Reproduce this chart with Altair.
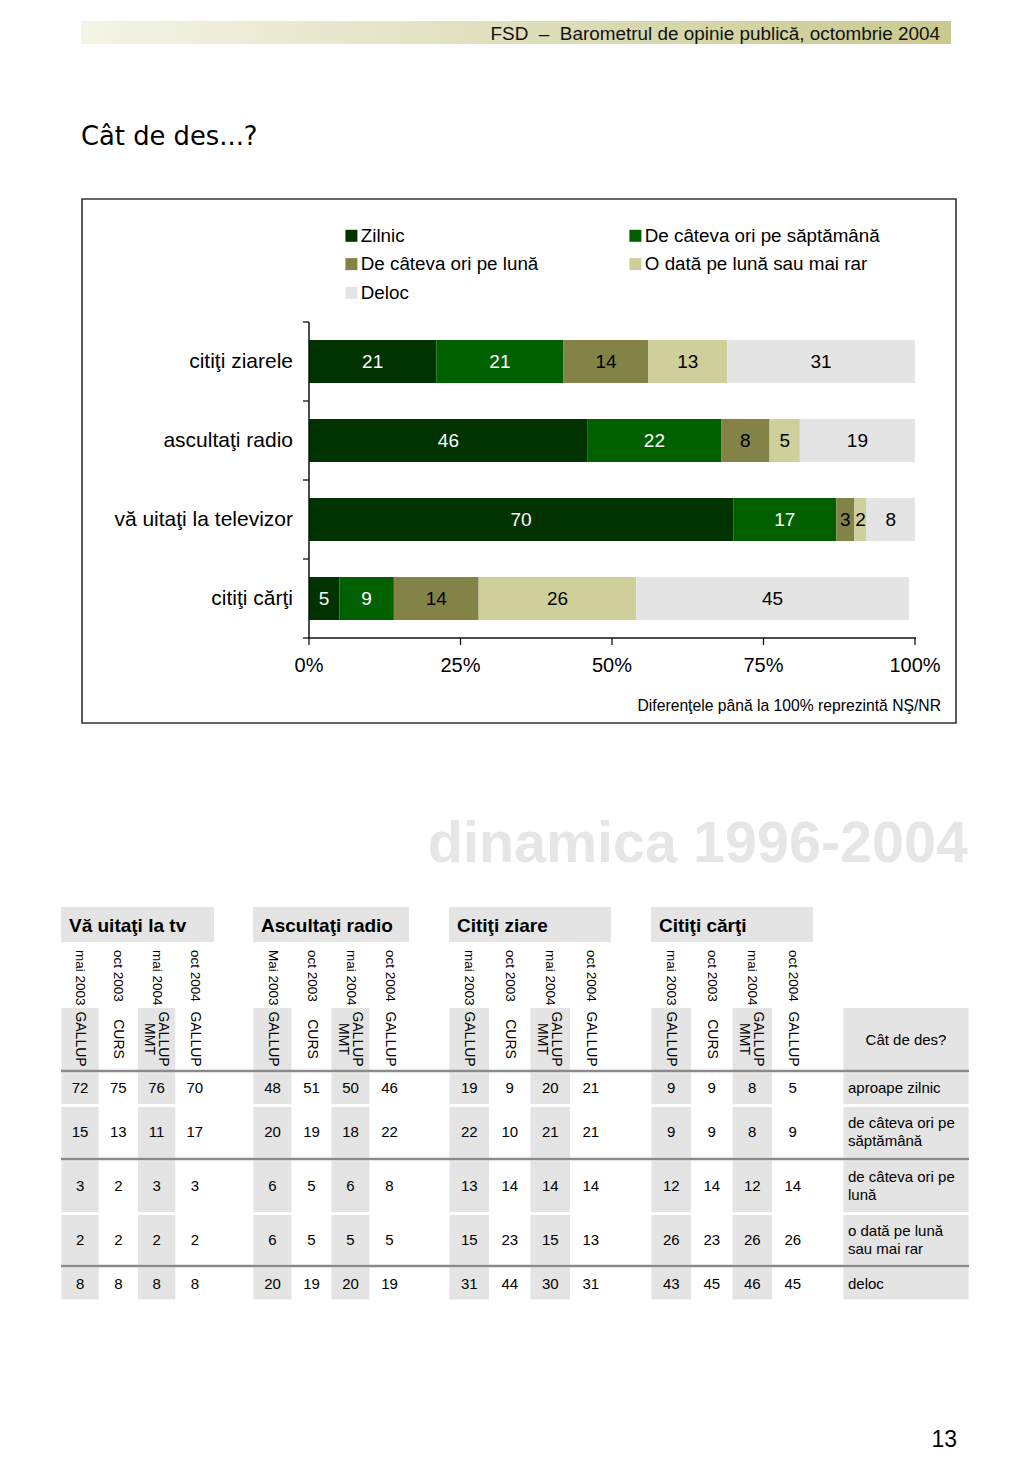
import altair as alt
import pandas as pd


def P(v):
    """page pixel -> chart pixel (page has an 8px margin)"""
    return v - 8


# ---------------- data: stacked bar chart ----------------
items = ["citiţi ziarele", "ascultaţi radio", "vă uitaţi la televizor", "citiţi cărţi"]
cats = ["Zilnic", "De câteva ori pe săptămână", "De câteva ori pe lună",
        "O dată pe lună sau mai rar", "Deloc"]
v_ziare = [21, 21, 14, 13, 31]
v_radio = [46, 22, 8, 5, 19]
v_tv = [70, 17, 3, 2, 8]
v_carti = [5, 9, 14, 26, 45]
x_ticks = [0, 25, 50, 75, 100]
x_tick_labels = ["0%", "25%", "50%", "75%", "100%"]
colors = ["#003300", "#006000", "#838347", "#cfcf9c", "#e4e4e4"]

# ---------------- data: table ----------------
groups = ["Vă uitaţi la tv", "Ascultaţi radio", "Citiţi ziare", "Citiţi cărţi"]
dates = [
    ["mai 2003", "oct 2003", "mai 2004", "oct 2004"],
    ["Mai 2003", "oct 2003", "mai 2004", "oct 2004"],
    ["mai 2003", "oct 2003", "mai 2004", "oct 2004"],
    ["mai 2003", "oct 2003", "mai 2004", "oct 2004"],
]
sources = ["GALLUP", "CURS", "GALLUP\nMMT", "GALLUP"]
row_labels = ["aproape zilnic", "de câteva ori pe\nsăptămână", "de câteva ori pe\nlună",
              "o dată pe lună\nsau mai rar", "deloc"]
tab_tv = [[72, 75, 76, 70], [15, 13, 11, 17], [3, 2, 3, 3], [2, 2, 2, 2], [8, 8, 8, 8]]
tab_radio = [[48, 51, 50, 46], [20, 19, 18, 22], [6, 5, 6, 8], [6, 5, 5, 5], [20, 19, 20, 19]]
tab_ziare = [[19, 9, 20, 21], [22, 10, 21, 21], [13, 14, 14, 14], [15, 23, 15, 13], [31, 44, 30, 31]]
tab_carti = [[9, 9, 8, 5], [9, 9, 8, 9], [12, 14, 12, 14], [26, 23, 26, 26], [43, 45, 46, 45]]
tables = [tab_tv, tab_radio, tab_ziare, tab_carti]

# ---------------- frames ----------------
bar_rows = []
for item, vals in zip(items, [v_ziare, v_radio, v_tv, v_carti]):
    s = 0
    for k, (c, v) in enumerate(zip(cats, vals)):
        bar_rows.append(dict(item=item, cat=c, value=v, start=s, end=s + v,
                             mid=s + v / 2, dark=k < 2))
        s += v
bar_df = pd.DataFrame(bar_rows)
item_df = pd.DataFrame({"item": items})
xt_df = pd.DataFrame({"t": x_ticks, "lab": x_tick_labels})
yb_df = pd.DataFrame({"b": list(range(len(items) + 1))})

# legend is laid out column by column (3 rows x 2 columns)
leg_order = [0, 2, 4, 1, 3]
leg_domain = [cats[i] for i in leg_order]
leg_range = [colors[i] for i in leg_order]

cell_rows, date_rows, src_rows = [], [], []
for g in range(4):
    for j in range(4):
        idx = g * 5 + j
        date_rows.append(dict(cx=idx + 0.5, lab=dates[g][j]))
        src_rows.append(dict(cx=idx + 0.5, lab=sources[j], c0=idx, c1=idx + 1,
                             shaded=j in (0, 2), two="\n" in sources[j]))
        for r in range(5):
            cell_rows.append(dict(c0=idx, c1=idx + 1, cx=idx + 0.5, r0=r, r1=r + 1,
                                  ry=r + 0.5, val=tables[g][r][j], shaded=j in (0, 2)))
for r in range(5):
    cell_rows.append(dict(c0=20, c1=21, cx=20.5, r0=r, r1=r + 1, ry=r + 0.5,
                          val=None, shaded=True))
cell_df = pd.DataFrame(cell_rows)
shade_df = cell_df[cell_df.shaded]
val_df = cell_df[cell_df.val.notna()].copy()
val_df["val"] = val_df["val"].astype(int)
date_df = pd.DataFrame(date_rows)
src_df = pd.DataFrame(src_rows)
src_shade_df = pd.concat([src_df[src_df.shaded][["c0", "c1"]],
                          pd.DataFrame({"c0": [20], "c1": [21]})])
grp_df = pd.DataFrame({"g": groups, "start": [0, 5, 10, 15], "end": [4, 9, 14, 19]})
rowlab_df = pd.DataFrame({"ry": [r + 0.5 for r in range(5)], "lab": row_labels})
rowlab_df["two"] = rowlab_df["lab"].str.contains("\n")
sep_df = pd.DataFrame({"b": [0, 2, 4]})
one = pd.DataFrame({"a": [0]})

FONT = "Liberation Sans"
NB = "\u00a0"

# ---------------- scales ----------------
xbar = alt.Scale(domain=[0, 100], range=[P(309), P(915)], nice=False, zero=False)
ybar = alt.Scale(domain=items, range=[P(322), P(638)], paddingInner=0.456, paddingOuter=0.228)
ybound = alt.Scale(domain=[0, 4], range=[P(322), P(638)], nice=False, zero=False)
xtab = alt.Scale(domain=[0, 4, 5, 9, 10, 14, 15, 19, 20, 21],
                 range=[P(v) for v in [61, 214, 253, 409, 449, 611, 651, 813, 843, 969]],
                 nice=False, zero=False)
ytab = alt.Scale(domain=[0, 1, 2, 3, 4, 5],
                 range=[P(v) for v in [1071, 1105.5, 1159, 1213.5, 1266, 1301]],
                 nice=False, zero=False)

layers = []

# header band
layers.append(alt.Chart(one).mark_rect(
    color=alt.LinearGradient(gradient="linear", x1=0, x2=1, y1=0, y2=0,
                             stops=[alt.GradientStop(offset=0, color="#f4f4e8"),
                                    alt.GradientStop(offset=1, color="#c9c98f")])
).encode(x=alt.value(P(81)), x2=alt.value(P(951)), y=alt.value(P(21)), y2=alt.value(P(44))))
layers.append(alt.Chart(one).mark_text(align="right", baseline="alphabetic", font=FONT,
                                       fontSize=18.9, color="#111").encode(
    x=alt.value(P(940)), y=alt.value(P(40)),
    text=alt.value(f"FSD{NB}{NB}–{NB}{NB}Barometrul de opinie publică, octombrie 2004")))

# title
layers.append(alt.Chart(one).mark_text(align="left", baseline="alphabetic", font="DejaVu Sans",
                                       fontSize=25.8, color="#000").encode(
    x=alt.value(P(81)), y=alt.value(P(145)), text=alt.value("Cât de des...?")))

# chart box
layers.append(alt.Chart(one).mark_rect(fillOpacity=0, fill="white", stroke="#333",
                                       strokeWidth=1.6).encode(
    x=alt.value(P(82)), x2=alt.value(P(956)), y=alt.value(P(199)), y2=alt.value(P(723))))

# bars
layers.append(alt.Chart(bar_df).mark_bar().encode(
    x=alt.X("start:Q", scale=xbar, axis=None),
    x2="end:Q",
    y=alt.Y("item:N", scale=ybar, axis=None, sort=items),
    color=alt.Color("cat:N", scale=alt.Scale(domain=leg_domain, range=leg_range),
                    sort=leg_domain,
                    legend=alt.Legend(title=None, orient="none", legendX=P(342), legendY=P(226),
                                      columns=2, columnPadding=87, rowPadding=8.7,
                                      symbolType="square", symbolSize=144, symbolStrokeWidth=0,
                                      labelFont=FONT, labelFontSize=18.8, labelLimit=400,
                                      labelOffset=0, padding=0, labelColor="#000")),
))
layers.append(alt.Chart(bar_df).mark_text(font=FONT, fontSize=19, baseline="middle").encode(
    x=alt.X("mid:Q", scale=xbar, axis=None),
    y=alt.Y("item:N", scale=ybar, axis=None, sort=items),
    text="value:Q",
    color=alt.condition("datum.dark", alt.value("white"), alt.value("black")),
))
# category labels
layers.append(alt.Chart(item_df).mark_text(align="right", baseline="middle", font=FONT,
                                           fontSize=21, color="#000").encode(
    x=alt.value(P(293)), y=alt.Y("item:N", scale=ybar, axis=None, sort=items), text="item:N"))
# axes
layers.append(alt.Chart(one).mark_rule(color="#111", strokeWidth=1.5).encode(
    x=alt.value(P(309)), y=alt.value(P(322)), y2=alt.value(P(639))))
layers.append(alt.Chart(one).mark_rule(color="#111", strokeWidth=1.5).encode(
    x=alt.value(P(308)), x2=alt.value(P(916)), y=alt.value(P(638))))
layers.append(alt.Chart(yb_df).mark_rule(color="#111", strokeWidth=1.3).encode(
    y=alt.Y("b:Q", scale=ybound, axis=None), x=alt.value(P(303)), x2=alt.value(P(309))))
layers.append(alt.Chart(xt_df).mark_rule(color="#111", strokeWidth=1.3).encode(
    x=alt.X("t:Q", scale=xbar, axis=None), y=alt.value(P(638)), y2=alt.value(P(645))))
layers.append(alt.Chart(xt_df).mark_text(font=FONT, fontSize=20, baseline="middle",
                                         color="#000").encode(
    x=alt.X("t:Q", scale=xbar, axis=None), y=alt.value(P(666)), text="lab:N"))
# note
layers.append(alt.Chart(one).mark_text(align="right", baseline="middle", font=FONT,
                                       fontSize=15.7, color="#000").encode(
    x=alt.value(P(941)), y=alt.value(P(706)),
    text=alt.value("Diferenţele până la 100% reprezintă NŞ/NR")))

# dinamica
layers.append(alt.Chart(one).mark_text(align="right", baseline="alphabetic", font=FONT,
                                       fontSize=57.5, fontWeight="bold", color="#e6e6e6").encode(
    x=alt.value(P(968)), y=alt.value(P(862)), text=alt.value("dinamica 1996-2004")))

# ---------------- table ----------------
layers.append(alt.Chart(grp_df).mark_rect(color="#e4e4e4").encode(
    x=alt.X("start:Q", scale=xtab, axis=None), x2="end:Q",
    y=alt.value(P(907)), y2=alt.value(P(942))))
layers.append(alt.Chart(grp_df).mark_text(align="left", baseline="middle", font=FONT,
                                          fontSize=19, fontWeight="bold", dx=8,
                                          color="#000").encode(
    x=alt.X("start:Q", scale=xtab, axis=None), y=alt.value(P(926)), text="g:N"))
layers.append(alt.Chart(date_df).mark_text(align="left", baseline="middle", angle=90,
                                           font=FONT, fontSize=13.5, color="#000").encode(
    x=alt.X("cx:Q", scale=xtab, axis=None), y=alt.value(P(950)), text="lab:N"))
layers.append(alt.Chart(src_shade_df).mark_rect(color="#e4e4e4", xOffset=0.5,
                                                x2Offset=-0.5).encode(
    x=alt.X("c0:Q", scale=xtab, axis=None), x2="c1:Q",
    y=alt.value(P(1008)), y2=alt.value(P(1070))))
layers.append(alt.Chart(shade_df).mark_rect(color="#e4e4e4", xOffset=0.5, x2Offset=-0.5,
                                            yOffset=1.5, y2Offset=-1.5).encode(
    x=alt.X("c0:Q", scale=xtab, axis=None), x2="c1:Q",
    y=alt.Y("r0:Q", scale=ytab, axis=None), y2="r1:Q"))
layers.append(alt.Chart(src_df[~src_df.two]).mark_text(
    align="center", baseline="middle", angle=90, font=FONT, fontSize=14,
    color="#000").encode(
    x=alt.X("cx:Q", scale=xtab, axis=None), y=alt.value(P(1039)), text="lab:N"))
layers.append(alt.Chart(src_df[src_df.two]).mark_text(
    align="center", baseline="middle", angle=90, font=FONT, fontSize=14, lineBreak="\n",
    lineHeight=14, dy=-6, color="#000").encode(
    x=alt.X("cx:Q", scale=xtab, axis=None), y=alt.value(P(1039)), text="lab:N"))
layers.append(alt.Chart(one).mark_text(align="center", baseline="middle", font=FONT,
                                       fontSize=15, color="#000").encode(
    x=alt.value(P(906)), y=alt.value(P(1040)), text=alt.value("Cât de des?")))
layers.append(alt.Chart(sep_df).mark_rule(color="#8a8a8a", strokeWidth=2.5).encode(
    y=alt.Y("b:Q", scale=ytab, axis=None), x=alt.value(P(61)), x2=alt.value(P(969))))
layers.append(alt.Chart(val_df).mark_text(align="center", baseline="middle", font=FONT,
                                          fontSize=15, color="#000").encode(
    x=alt.X("cx:Q", scale=xtab, axis=None), y=alt.Y("ry:Q", scale=ytab, axis=None),
    text="val:Q"))
layers.append(alt.Chart(rowlab_df[~rowlab_df.two]).mark_text(
    align="left", baseline="middle", font=FONT, fontSize=15, dx=5, color="#000").encode(
    x=alt.value(P(843)), y=alt.Y("ry:Q", scale=ytab, axis=None), text="lab:N"))
layers.append(alt.Chart(rowlab_df[rowlab_df.two]).mark_text(
    align="left", baseline="middle", font=FONT, fontSize=15, lineBreak="\n", lineHeight=18,
    dx=5, dy=-9, color="#000").encode(
    x=alt.value(P(843)), y=alt.Y("ry:Q", scale=ytab, axis=None), text="lab:N"))

# page number
layers.append(alt.Chart(one).mark_text(align="right", baseline="alphabetic", font=FONT,
                                       fontSize=23, color="#000").encode(
    x=alt.value(P(957)), y=alt.value(P(1447)), text=alt.value("13")))

chart = alt.layer(*layers).resolve_scale(
    x="independent", y="independent", color="independent"
).properties(
    width=1008, height=1463, autosize=alt.AutoSizeParams(type="none"), padding=0
).configure_view(stroke=None)

chart.save("out.html", embed_options={"renderer": "svg", "actions": False})
